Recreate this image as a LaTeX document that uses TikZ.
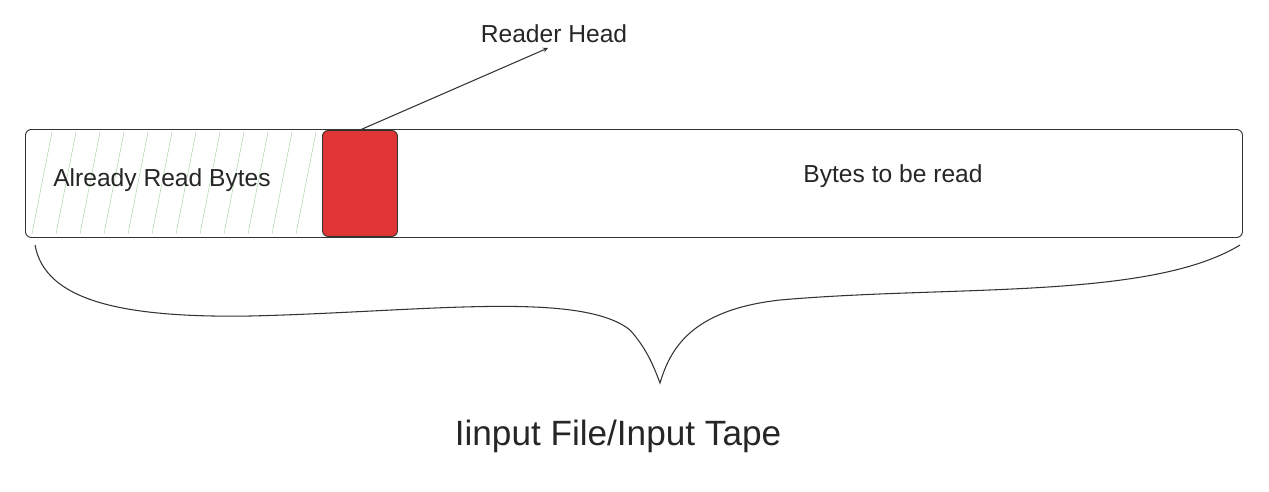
\documentclass[tikz,border=0pt]{standalone}
\usepackage{fontspec}
\setmainfont{Liberation Sans}
\definecolor{headred}{HTML}{E03535}
\begin{document}
\begin{tikzpicture}[x=0.03cm,y=-0.03cm,
  lbl/.style={font=\fontsize{21}{24}\selectfont, text=black!85},
  line/.style={draw=black!80, line width=0.9pt}]
\useasboundingbox (0,0) rectangle (1269,491);
% tape
\node[draw=black!80, line width=0.8pt, rounded corners=5pt, minimum width=1217*0.03cm, minimum height=108*0.03cm, inner sep=0pt, anchor=north west] (tape) at (25,129) {};
% hachure
\foreach \i in {0,...,11}{
  \draw[green!50!black!35, line width=0.4pt] (32+\i*24,234) -- (52+\i*24,132);
}
\node[draw=black!80, fill=headred, line width=0.8pt, rounded corners=5pt, minimum width=75*0.03cm, minimum height=106*0.03cm, inner sep=0pt, anchor=north west] (head) at (322,130) {};
\node[lbl] (read) at (162,180) {Already Read Bytes};
\node[lbl] (tobe) at (893,176) {Bytes to be read};
\node[lbl] (rh) at (554,34) {Reader Head};
\coordinate (ae) at (548,48);
\draw[line, -stealth] (head.north) -- (ae);
% brace
\draw[line] (35,245) .. controls (45,300) and (120,318) .. (250,316)
  .. controls (420,312) and (580,290) .. (630,330)
  .. controls (648,350) and (655,370) .. (660,383)
  .. controls (670,350) and (690,310) .. (780,300)
  .. controls (950,285) and (1150,300) .. (1240,245);
\node[font=\fontsize{30}{34}\selectfont, text=black!85] (title) at (618,436) {Iinput File/Input Tape};
\end{tikzpicture}
\end{document}
